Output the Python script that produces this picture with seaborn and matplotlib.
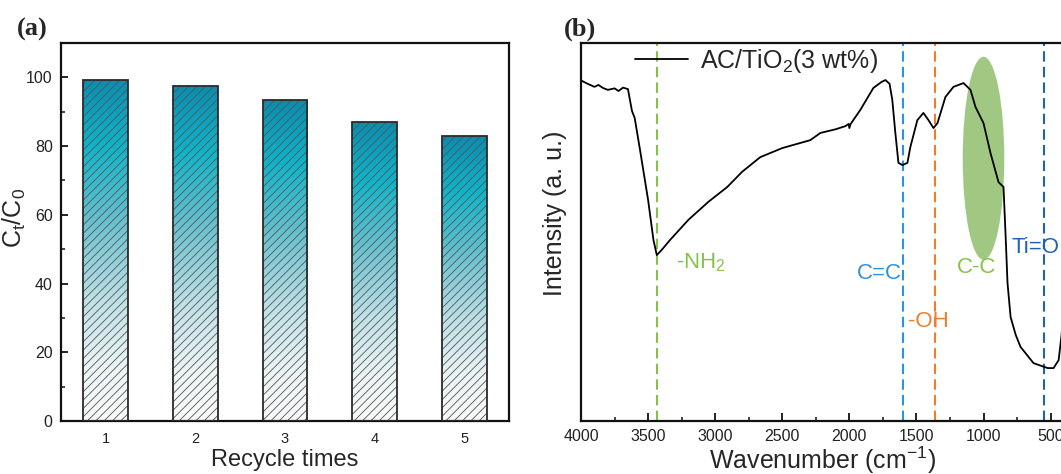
import numpy as np
import pandas as pd
import matplotlib
matplotlib.use("Agg")
import matplotlib.pyplot as plt
from matplotlib.colors import LinearSegmentedColormap
from matplotlib.patches import Ellipse
from matplotlib.ticker import MultipleLocator
import seaborn as sns

# ---- data -------------------------------------------------------------
recycle_times = ["1", "2", "3", "4", "5"]
ct_c0 = [99.3, 97.6, 93.3, 87.0, 82.9]

wavenumber = [4000, 3950, 3900, 3870, 3836, 3800, 3750, 3720, 3687, 3650,
              3620, 3600, 3560, 3500, 3460, 3435, 3400, 3336, 3200, 3050,
              2910, 2800, 2664, 2500, 2291, 2216, 2100, 2030, 2005, 2000,
              1990, 1918, 1821, 1760, 1731, 1700, 1680, 1657, 1634, 1604,
              1567, 1545, 1493, 1448, 1410, 1373, 1343, 1284, 1224, 1149,
              1097, 1060, 1000, 948, 888, 851, 836, 821, 798, 760,
              724, 627, 522, 478, 440, 418, 400]
intensity = [90.1, 89.2, 88.4, 88.9, 88.1, 87.6, 88.0, 87.3, 88.2, 87.8,
             82.0, 80.2, 71.7, 58.5, 47.9, 43.9, 45.2, 47.9, 53.2, 58.0,
             61.9, 65.9, 69.8, 72.2, 74.3, 76.2, 77.2, 78.0, 78.6, 77.5,
             78.6, 82.3, 88.1, 89.7, 90.2, 89.2, 85.0, 76.2, 68.3, 67.7,
             68.3, 72.5, 79.6, 81.5, 79.6, 77.5, 78.8, 85.7, 88.4, 89.4,
             87.6, 83.1, 78.8, 70.9, 63.2, 61.9, 49.7, 36.5, 27.5, 22.8,
             19.6, 15.3, 14.0, 14.0, 16.1, 22.8, 32.0]

band_positions = [3430, 1600, 1358, 550]
band_colors = ["#86c14a", "#2b93e0", "#f07d2c", "#1f62b8"]
band_labels = ["-NH$_2$", "C=C", "-OH", "Ti=O"]
label_x = [3290, 1612, 1560, 790]
label_y = [42.0, 39.0, 26.2, 46.0]
label_ha = ["left", "right", "left", "left"]
cc_label = ("C-C", 1052, 40.7)
cc_region = (1000, 69.5, 310, 53.7)   # centre wavenumber, centre intensity, width, height

# ---- style ------------------------------------------------------------
sns.set_theme(style="ticks")
plt.rcParams["font.family"] = ["Liberation Sans", "DejaVu Sans"]
plt.rcParams["mathtext.fontset"] = "custom"
plt.rcParams["mathtext.rm"] = "Liberation Sans"
plt.rcParams["mathtext.it"] = "Liberation Sans"
plt.rcParams["hatch.linewidth"] = 0.6
plt.rcParams["axes.linewidth"] = 1.6

fig = plt.figure(figsize=(10.61, 4.74), dpi=100)
ax_a = fig.add_axes([61 / 1061, 53 / 474, 448 / 1061, 378 / 474])
ax_b = fig.add_axes([581 / 1061, 53 / 474, 483 / 1061, 378 / 474])

# ---- (a) recycle bars ---------------------------------------------------
df = pd.DataFrame({"cycle": recycle_times, "ratio": ct_c0})
sns.barplot(data=df, x="cycle", y="ratio", width=0.5, color="white",
            linewidth=0, ax=ax_a)
grad_cmap = LinearSegmentedColormap.from_list(
    "teal_fade",
    [(0.0, "#0a8db0"), (0.2, "#10b5ca"), (0.4, "#62bfce"),
     (0.65, "#bfe1e7"), (0.85, "#edf5f6"), (1.0, "#fafafa")])
grad = np.linspace(0, 1, 256).reshape(-1, 1)
for p in list(ax_a.patches):
    x0, w, h = p.get_x(), p.get_width(), p.get_height()
    im = ax_a.imshow(grad, cmap=grad_cmap, aspect="auto", origin="upper",
                     extent=[x0, x0 + w, 0, h], zorder=1, interpolation="bilinear")
    im.set_clip_path(p)
    p.set_facecolor("none")
    p.set_edgecolor("#555555")
    p.set_linewidth(0)
    p.set_hatch("////")
    p.set_zorder(2)
sns.barplot(data=df, x="cycle", y="ratio", width=0.5, fill=False,
            color="#2a2a2a", linewidth=1.3, ax=ax_a, zorder=3)
ax_a.set_xlim(-0.5, 4.5)
ax_a.set_ylim(0, 110)
ax_a.yaxis.set_minor_locator(MultipleLocator(10))
ax_a.set_yticks([0, 20, 40, 60, 80, 100])
ax_a.tick_params(axis="both", which="major", direction="in", length=5,
                 width=1.4, colors="#222222", pad=6)
ax_a.tick_params(axis="y", which="major", labelsize=11.5)
ax_a.tick_params(axis="x", which="major", labelsize=10.5, pad=8)
ax_a.tick_params(axis="y", which="minor", direction="in", length=3, width=1.2)
ax_a.set_xlabel("Recycle times", fontsize=17, labelpad=2)
ax_a.set_ylabel("C$_t$/C$_0$", fontsize=18)
ax_a.yaxis.set_label_coords(-0.074, 0.537)
for s in ax_a.spines.values():
    s.set_color("#111111")

# ---- (b) FTIR spectrum --------------------------------------------------
spec = pd.DataFrame({"wn": wavenumber, "I": intensity})
sns.lineplot(data=spec, x="wn", y="I", sort=False, estimator=None,
             color="black", linewidth=1.3, label="AC/TiO$_2$(3 wt%)", ax=ax_b)
for pos, col in zip(band_positions, band_colors):
    ax_b.axvline(pos, color=col, linestyle=(0, (5, 2.5)), linewidth=1.5, zorder=1)
cx, cy, cw, chh = cc_region
ax_b.add_patch(Ellipse((cx, cy), cw, chh, facecolor="#8fbf6c", alpha=0.85,
                       edgecolor="none", zorder=0))
for txt, x, y, ha, col in zip(band_labels, label_x, label_y, label_ha, band_colors):
    ax_b.text(x, y, txt, color=col, fontsize=16, ha=ha, va="center")
ax_b.text(cc_label[1], cc_label[2], cc_label[0], color="#86c14a", fontsize=16,
          ha="center", va="center")
ax_b.set_xlim(4000, 400)
ax_b.set_ylim(0, 100)
ax_b.set_yticks([])
ax_b.xaxis.set_minor_locator(MultipleLocator(250))
ax_b.set_xticks([4000, 3500, 3000, 2500, 2000, 1500, 1000, 500])
ax_b.tick_params(axis="x", which="major", direction="in", length=6, width=1.4,
                 labelsize=11.5, colors="#222222", pad=6)
ax_b.tick_params(axis="x", which="minor", direction="in", length=3, width=1.2)
ax_b.set_xlabel("Wavenumber (cm$^{-1}$)", fontsize=18, labelpad=0)
ax_b.set_ylabel("Intensity (a. u.)", fontsize=18)
ax_b.yaxis.set_label_coords(-0.028, 0.55)
for s in ax_b.spines.values():
    s.set_color("#111111")
ax_b.legend(loc="upper left", bbox_to_anchor=(0.112, 0.99), frameon=False,
            fontsize=18, handlelength=2.1, handletextpad=0.5, borderpad=0,
            borderaxespad=0)

# ---- panel tags -----------------------------------------------------------
tag_font = dict(fontsize=19, fontweight="bold", family="Liberation Serif")
fig.text(17 / 1061, 1 - 29 / 474, "(a)", va="center", ha="left", **tag_font)
fig.text(564 / 1061, 1 - 29 / 474, "(b)", va="center", ha="left", **tag_font)

fig.savefig("out.png", dpi=100)
